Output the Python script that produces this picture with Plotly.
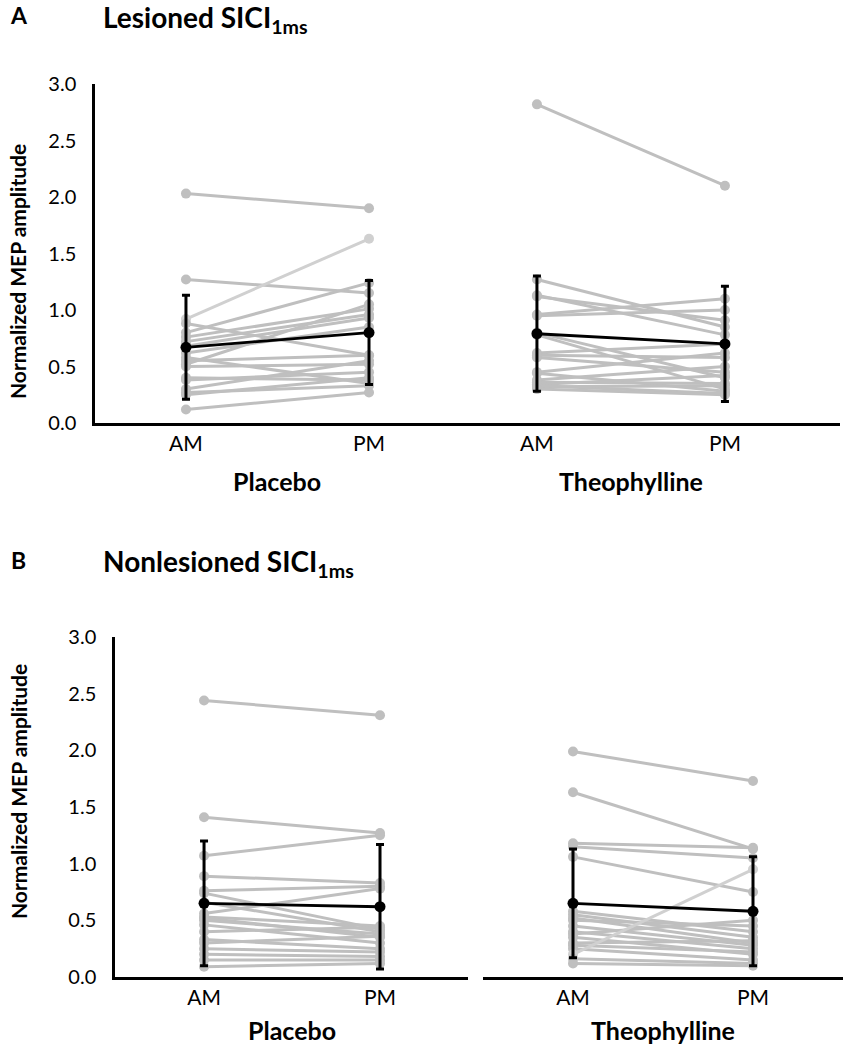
import plotly.graph_objects as go

W, H = 844, 1050
FONT = "Lato"

sessions = ["AM", "PM"]
groups = ["Placebo", "Theophylline"]

# Panel A - Lesioned SICI1ms (individual subjects)
a_placebo_am = [2.03, 1.27, 0.92, 0.88, 0.80, 0.76, 0.72, 0.68, 0.62, 0.58, 0.55, 0.52, 0.50, 0.40, 0.38, 0.30, 0.27, 0.25, 0.12]
a_placebo_pm = [1.90, 1.15, 1.63, 0.60, 1.24, 1.01, 0.96, 0.93, 0.85, 0.35, 0.60, 1.05, 0.52, 0.38, 0.45, 0.55, 0.33, 0.40, 0.27]
a_theo_am = [2.82, 1.27, 1.13, 1.12, 0.96, 0.95, 0.80, 0.78, 0.62, 0.60, 0.58, 0.45, 0.44, 0.38, 0.36, 0.34, 0.33, 0.32, 0.30]
a_theo_pm = [2.10, 0.85, 0.78, 0.91, 1.10, 1.00, 0.40, 0.30, 0.70, 0.58, 0.45, 0.62, 0.28, 0.50, 0.35, 0.42, 0.26, 0.33, 0.25]

# Panel B - Nonlesioned SICI1ms
b_placebo_am = [2.44, 1.41, 1.07, 0.89, 0.76, 0.74, 0.66, 0.56, 0.53, 0.52, 0.50, 0.46, 0.40, 0.33, 0.30, 0.25, 0.20, 0.15, 0.09]
b_placebo_pm = [2.31, 1.27, 1.25, 0.83, 0.80, 0.42, 0.40, 0.78, 0.45, 0.35, 0.38, 0.30, 0.44, 0.25, 0.36, 0.22, 0.18, 0.15, 0.12]
b_theo_am = [1.99, 1.63, 1.18, 1.15, 1.06, 0.58, 0.55, 0.52, 0.50, 0.45, 0.40, 0.38, 0.35, 0.30, 0.28, 0.25, 0.20, 0.16, 0.12]
b_theo_pm = [1.73, 1.13, 1.14, 1.05, 0.75, 0.40, 0.35, 0.30, 0.45, 0.28, 0.25, 0.50, 0.20, 0.32, 0.22, 0.15, 0.95, 0.12, 0.10]

# Group means (AM, PM) and error (SD)
a_placebo_mean = [0.67, 0.80]
a_placebo_err = [0.46, 0.46]
a_theo_mean = [0.79, 0.70]
a_theo_err = [0.51, 0.51]
b_placebo_mean = [0.65, 0.62]
b_placebo_err = [0.55, 0.55]
b_theo_mean = [0.65, 0.58]
b_theo_err = [0.48, 0.48]

y_ticks = [0.0, 0.5, 1.0, 1.5, 2.0, 2.5, 3.0]

GRAY = "#bfbfbf"
LIGHT = "#d0d0d0"

fig = go.Figure()

panels = [
    ("x", "y", a_placebo_am, a_placebo_pm, a_placebo_mean, a_placebo_err, {2}),
    ("x2", "y2", a_theo_am, a_theo_pm, a_theo_mean, a_theo_err, set()),
    ("x3", "y3", b_placebo_am, b_placebo_pm, b_placebo_mean, b_placebo_err, set()),
    ("x4", "y4", b_theo_am, b_theo_pm, b_theo_mean, b_theo_err, {16}),
]

for xa, ya, am, pm, mean, err, light_idx in panels:
    for i, (v1, v2) in enumerate(zip(am, pm)):
        col = LIGHT if i in light_idx else GRAY
        fig.add_trace(go.Scatter(
            x=sessions, y=[v1, v2], xaxis=xa, yaxis=ya, mode="lines+markers",
            line=dict(color=col, width=3), marker=dict(color=col, size=10),
            showlegend=False, hoverinfo="skip"))
    fig.add_trace(go.Scatter(
        x=sessions, y=mean, xaxis=xa, yaxis=ya, mode="lines+markers",
        line=dict(color="black", width=2.8), marker=dict(color="black", size=11),
        error_y=dict(type="data", array=err, color="black", thickness=3, width=4),
        showlegend=False))

def px_x(p):
    return p / W

def px_y(p):
    return 1 - p / H

xtickfont = dict(family=FONT, size=21, color="black")
ytickfont = dict(family=FONT, size=20, color="black")

xcommon = dict(type="category", showline=True, linecolor="black", linewidth=3,
               showgrid=False, zeroline=False, ticks="", tickfont=xtickfont,
               fixedrange=True, automargin=False)

ycommon = dict(range=[0, 3], showgrid=False, zeroline=False, fixedrange=True,
               automargin=False)

fig.update_layout(
    width=W, height=H, autosize=False, margin=dict(l=0, r=0, t=0, b=0, pad=0),
    paper_bgcolor="white", plot_bgcolor="rgba(0,0,0,0)",
    xaxis=dict(xcommon, domain=[px_x(95), px_x(462)], range=[-0.497, 1.508], anchor="y"),
    xaxis2=dict(xcommon, domain=[px_x(442), px_x(840)], range=[-0.505, 1.612], anchor="y2"),
    xaxis3=dict(xcommon, domain=[px_x(115), px_x(468)], range=[-0.506, 1.5], anchor="y3"),
    xaxis4=dict(xcommon, domain=[px_x(483), px_x(843)], range=[-0.5, 1.5], anchor="y4"),
    yaxis=dict(ycommon, domain=[px_y(423), px_y(84)], anchor="x", showline=True,
               linecolor="black", linewidth=2.5, tickvals=y_ticks,
               ticktext=[f"{v:.1f}" for v in y_ticks], tickfont=ytickfont,
               ticks="", ticklabelstandoff=12),
    yaxis2=dict(ycommon, domain=[px_y(423), px_y(84)], anchor="x2", visible=False),
    yaxis3=dict(ycommon, domain=[px_y(977), px_y(637)], anchor="x3", showline=True,
                linecolor="black", linewidth=2.5, tickvals=y_ticks,
                ticktext=[f"{v:.1f}" for v in y_ticks], tickfont=ytickfont,
                ticks="", ticklabelstandoff=12),
    yaxis4=dict(ycommon, domain=[px_y(977), px_y(637)], anchor="x4", visible=False),
)

bold = dict(family=FONT, size=25, color="black")
ytitle_font = dict(family=FONT, size=21, color="black")
ann = []
# group labels
for xr, yp, name in [("x", 481, groups[0]), ("x2", 481, groups[1]),
                     ("x3", 1030, groups[0]), ("x4", 1030, groups[1])]:
    ann.append(dict(x=0.5, y=px_y(yp), xref=xr, yref="paper", text=f"<b>{name}</b>",
                    showarrow=False, font=bold, xanchor="center", yanchor="middle"))
# y-axis titles
for yc in [272, 792]:
    ann.append(dict(x=px_x(18), y=px_y(yc), xref="paper", yref="paper",
                    text="<b>Normalized MEP amplitude</b>", textangle=-90,
                    showarrow=False, font=ytitle_font, xanchor="center", yanchor="middle"))
# panel letters and titles
title_font = dict(family=FONT, size=28, color="black")
ann.append(dict(x=px_x(8), y=px_y(15), xref="paper", yref="paper", text="<b>A</b>",
                showarrow=False, font=dict(family=FONT, size=23, color="black"),
                xanchor="left", yanchor="middle"))
ann.append(dict(x=px_x(101), y=px_y(19), xref="paper", yref="paper",
                text="<b>Lesioned SICI<sub>1ms</sub></b>",
                showarrow=False, font=title_font, xanchor="left", yanchor="middle"))
ann.append(dict(x=px_x(9), y=px_y(560), xref="paper", yref="paper", text="<b>B</b>",
                showarrow=False, font=dict(family=FONT, size=23, color="black"),
                xanchor="left", yanchor="middle"))
ann.append(dict(x=px_x(101), y=px_y(563), xref="paper", yref="paper",
                text="<b>Nonlesioned SICI<sub>1ms</sub></b>",
                showarrow=False, font=title_font, xanchor="left", yanchor="middle"))

fig.update_layout(annotations=ann)

fig.write_html("out.html", config={"displayModeBar": False},
               post_script="document.body.style.margin='0';")
